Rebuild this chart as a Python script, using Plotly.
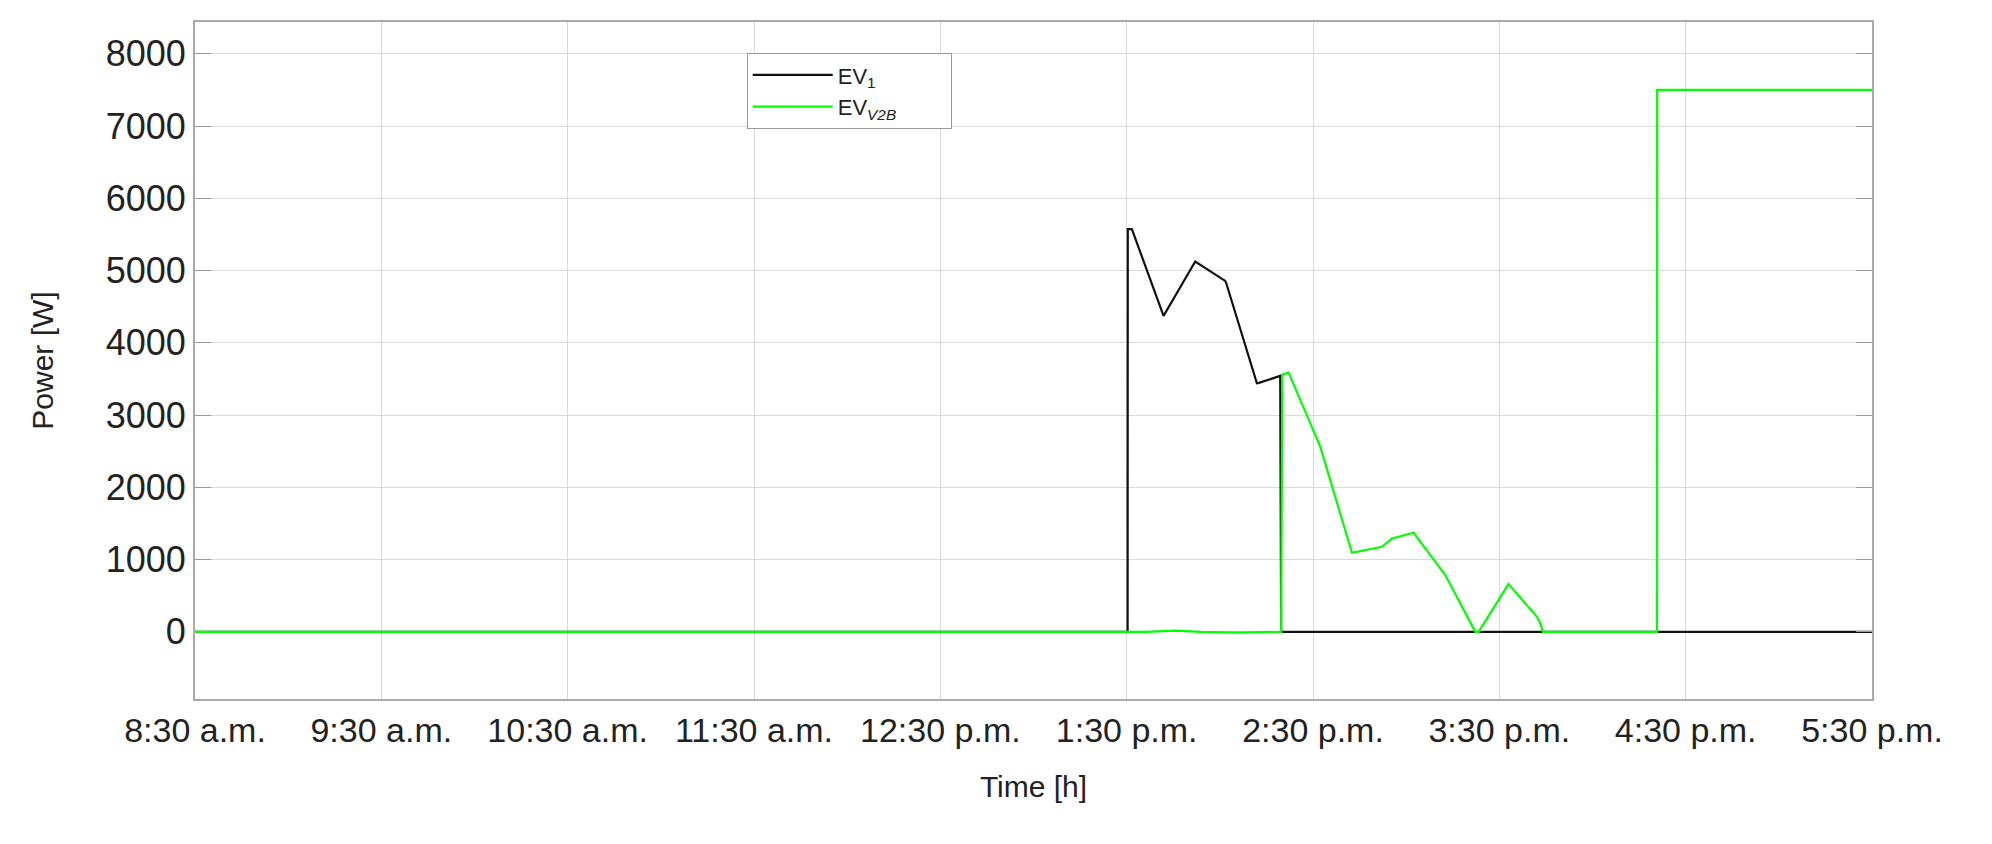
import plotly.graph_objects as go

# time in hours (8.5 = 8:30 a.m.)
time_ev1 = [8.5, 13.505, 13.506, 13.528, 13.698, 13.868, 14.029, 14.035, 14.199, 14.21, 14.324, 14.329, 17.5]
power_ev1 = [0, 0, 5573, 5573, 4373, 5125, 4857, 4820, 3440, 3445, 3542, 0, 0]

time_v2b = [8.5, 13.6, 13.76, 13.9, 14.1, 14.3, 14.329, 14.335, 14.369, 14.493, 14.539, 14.709,
            14.870, 14.924, 15.040, 15.210, 15.371, 15.389, 15.549, 15.702, 15.720, 15.734,
            16.346, 16.347, 17.5]
power_v2b = [0, 0, 15, 0, -10, 0, 0, 3560, 3588, 2840, 2562, 1094,
             1177, 1293, 1371, 785, 0, 0, 660, 208, 116, 0,
             0, 7500, 7500]

tick_vals = [8.5, 9.5, 10.5, 11.5, 12.5, 13.5, 14.5, 15.5, 16.5, 17.5]
tick_text = ["8:30 a.m.", "9:30 a.m.", "10:30 a.m.", "11:30 a.m.", "12:30 p.m.",
             "1:30 p.m.", "2:30 p.m.", "3:30 p.m.", "4:30 p.m.", "5:30 p.m."]

pad = "&nbsp;" * 8  # widen the legend box like the original

fig = go.Figure()
fig.add_trace(go.Scatter(x=time_ev1, y=power_ev1, mode="lines", name="EV<sub>1</sub>",
                         line=dict(color="#111111", width=2.2)))
fig.add_trace(go.Scatter(x=time_v2b, y=power_v2b, mode="lines", name="EV<sub><i>V2B</i></sub>" + pad,
                         line=dict(color="#00ff00", width=2.2)))

# page body adds an 8 px margin, so size the figure to fit inside it
fig.update_layout(
    width=1976, height=828,
    margin=dict(l=187, r=112, t=14, b=137),
    plot_bgcolor="white", paper_bgcolor="white",
    font=dict(family="Liberation Sans, Arial, sans-serif", color="#222"),
    legend=dict(x=0.329, y=0.954, xanchor="left", yanchor="top",
                bgcolor="white", bordercolor="#999", borderwidth=1,
                font=dict(size=22), tracegroupgap=0, itemwidth=80),
)
fig.update_xaxes(
    range=[8.5, 17.5], tickvals=tick_vals, ticktext=tick_text,
    tickfont=dict(size=34), showgrid=True, gridcolor="#d9d9d9", gridwidth=1,
    showline=True, linecolor="#aaa", linewidth=2, mirror=True, zeroline=False,
    title=dict(text="Time [h]", font=dict(size=30), standoff=28),
)
fig.update_yaxes(
    range=[-930, 8440], tickvals=list(range(0, 8001, 1000)),
    tickfont=dict(size=36), showgrid=True, gridcolor="#d9d9d9", gridwidth=1,
    showline=True, linecolor="#aaa", linewidth=2, mirror="ticks", zeroline=False,
    ticks="inside", ticklen=16, tickcolor="#999",
    title=dict(text="Power [W]", font=dict(size=30), standoff=43),
)

fig.write_html("out.html")
